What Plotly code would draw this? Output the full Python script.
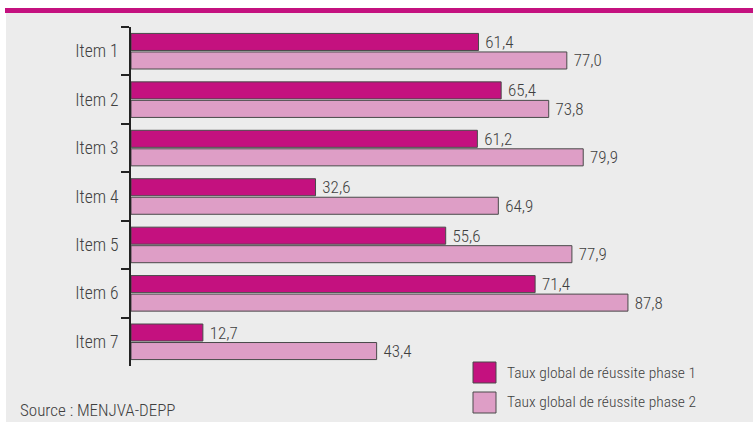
import plotly.graph_objects as go

items = ["Item 1", "Item 2", "Item 3", "Item 4", "Item 5", "Item 6", "Item 7"]
phase1 = [61.4, 65.4, 61.2, 32.6, 55.6, 71.4, 12.7]
phase2 = [77.0, 73.8, 79.9, 64.9, 77.9, 87.8, 43.4]
series_names = ["Taux global de réussite phase 1", "Taux global de réussite phase 2"]

C1 = "#c4117f"
C2 = "#de9ec6"
BG = "#ececec"
TXT = "#404040"
FONT = "Roboto Condensed, Roboto, sans-serif"
WGT = 300

W, H = 753, 422
ML, MR, MT, MB = 131, 56, 27, 56
PW, PH = W - ML - MR, H - MT - MB


def px_x(x):
    return (x - ML) / PW


def px_y(y):
    return (H - MB - y) / PH


fig = go.Figure()
for name, vals, col in [(series_names[0], phase1, C1), (series_names[1], phase2, C2)]:
    fig.add_trace(go.Bar(
        y=items, x=vals, name=name, orientation="h",
        marker=dict(color=col, line=dict(color="#4a4a4a", width=1)),
        text=vals, texttemplate=" %{x:.1f}", textposition="outside",
        constraintext="none",
        textfont=dict(family=FONT, size=17, color=TXT, weight=WGT),
        cliponaxis=False, showlegend=False,
    ))

shapes = [
    # white margin on the left and top, magenta rule across the top
    dict(type="rect", xref="paper", yref="paper", x0=px_x(0), x1=px_x(6),
         y0=px_y(H), y1=px_y(0), fillcolor="white", line=dict(width=0), layer="below"),
    dict(type="rect", xref="paper", yref="paper", x0=px_x(0), x1=px_x(W),
         y0=px_y(8), y1=px_y(0), fillcolor="white", line=dict(width=0), layer="below"),
    dict(type="rect", xref="paper", yref="paper", x0=px_x(5), x1=px_x(W),
         y0=px_y(13), y1=px_y(8), fillcolor=C1, line=dict(width=0), layer="below"),
]

annotations = [
    dict(text="Source : MENJVA-DEPP", xref="paper", yref="paper",
         x=px_x(18), y=px_y(410), xanchor="left", yanchor="middle", showarrow=False,
         font=dict(family=FONT, size=17, color=TXT, weight=WGT)),
]

# legend swatches and labels
for (y0, y1), col, name in [((362, 383), C1, series_names[0]), ((392, 413), C2, series_names[1])]:
    shapes.append(dict(type="rect", xref="paper", yref="paper",
                       x0=px_x(473), x1=px_x(496), y0=px_y(y1), y1=px_y(y0),
                       fillcolor=col, line=dict(color="#4a4a4a", width=1)))
    annotations.append(dict(text=name, xref="paper", yref="paper",
                            x=px_x(505), y=px_y((y0 + y1) / 2), xanchor="left", yanchor="middle",
                            showarrow=False, font=dict(family=FONT, size=15.5, color=TXT, weight=WGT)))

fig.update_layout(
    width=W, height=H,
    margin=dict(l=ML, r=MR, t=MT, b=MB),
    paper_bgcolor=BG, plot_bgcolor=BG,
    barmode="group", bargap=0.235, bargroupgap=0.08,
    separators=", ",
    font=dict(family=FONT, size=15, color=TXT, weight=WGT),
    shapes=shapes, annotations=annotations,
    xaxis=dict(range=[0, 100], visible=False, fixedrange=True),
    yaxis=dict(autorange="reversed", showline=True, linecolor="#222", linewidth=2,
               ticks="outside", tickson="boundaries", ticklen=8, tickwidth=2, tickcolor="#222",
               showgrid=False, zeroline=False, ticklabelstandoff=7,
               tickfont=dict(family=FONT, size=17.5, color=TXT, weight=WGT)),
)

fig.write_html("out.html")
